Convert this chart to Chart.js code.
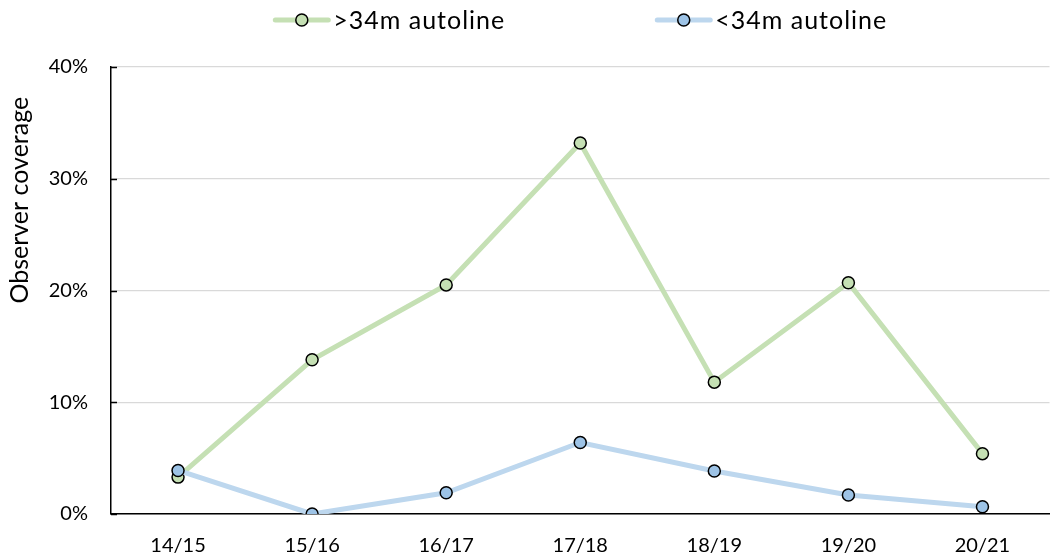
<!DOCTYPE html>
<html>
<head>
<meta charset="utf-8">
<script src="https://cdn.jsdelivr.net/npm/chart.js@4"></script>
<style>
html,body{margin:0;padding:0;background:#fff;}
#wrap{width:1057px;height:558px;position:relative;}
</style>
</head>
<body>
<div id="wrap"><canvas id="c" width="1057" height="558"></canvas></div>
<script>
const categories = ['14/15','15/16','16/17','17/18','18/19','19/20','20/21'];
const seriesNames = ['>34m autoline','<34m autoline'];
const over34 = [3.3, 13.8, 20.5, 33.2, 11.8, 20.7, 5.4];
const under34 = [3.9, 0.0, 1.9, 6.4, 3.85, 1.7, 0.65];
const yTicks = [0, 10, 20, 30, 40];
const yTitle = 'Observer coverage';

const FONT = 'Lato, "Open Sans", sans-serif';
const lineColors = ['#C5E0B4', '#BDD7EE'];
const markerColors = ['#C5E0B4', '#9DC3E6'];

// custom legend: line + marker sample, centered over the plot area
const legendPlugin = {
  id: 'lineLegend',
  afterDraw(chart) {
    const ctx = chart.ctx;
    const fs = 25;
    ctx.save();
    ctx.font = fs + 'px ' + FONT;
    ctx.letterSpacing = '1px';
    ctx.textBaseline = 'middle';
    const sampleW = 57, gapText = 3, gapItems = 150;
    const items = chart.data.datasets.map((d) => ({ds: d, w: sampleW + gapText + ctx.measureText(d.label).width}));
    const total = items.reduce((s, it) => s + it.w, 0) + gapItems * (items.length - 1);
    const ca = chart.chartArea;
    let x = (ca.left + ca.right - total) / 2;
    const y = 20;
    items.forEach((it) => {
      ctx.strokeStyle = it.ds.borderColor;
      ctx.lineWidth = 5;
      ctx.lineCap = 'round';
      ctx.beginPath(); ctx.moveTo(x + 2, y); ctx.lineTo(x + sampleW - 2, y); ctx.stroke();
      ctx.beginPath(); ctx.arc(x + sampleW / 2, y, 6, 0, Math.PI * 2);
      ctx.fillStyle = it.ds.pointBackgroundColor; ctx.fill();
      ctx.lineWidth = 1.5; ctx.strokeStyle = '#000'; ctx.stroke();
      ctx.fillStyle = '#000';
      ctx.fillText(it.ds.label, x + sampleW + gapText, y + 1);
      x += it.w + gapItems;
    });
    ctx.restore();
  }
};

// y axis title, placed in the upper part of the axis (as in the original)
const yTitlePlugin = {
  id: 'yTitle',
  afterDraw(chart) {
    const ctx = chart.ctx, ca = chart.chartArea;
    ctx.save();
    ctx.font = '25px ' + FONT;
    ctx.fillStyle = '#000';
    ctx.textAlign = 'center';
    ctx.textBaseline = 'middle';
    ctx.translate(20, ca.top + (ca.bottom - ca.top) * 0.298);
    ctx.rotate(-Math.PI / 2);
    ctx.fillText(yTitle, 0, 0);
    ctx.restore();
  }
};

// inside tick marks on the y axis
const innerTicks = {
  id: 'innerTicks',
  beforeDatasetsDraw(chart) {
    const ys = chart.scales.y, ctx = chart.ctx;
    const x0 = chart.chartArea.left;
    ctx.save();
    ctx.strokeStyle = '#000'; ctx.lineWidth = 1.5;
    yTicks.forEach(v => {
      const py = Math.round(ys.getPixelForValue(v)) + 0.5;
      ctx.beginPath(); ctx.moveTo(x0, py); ctx.lineTo(x0 + 6, py); ctx.stroke();
    });
    ctx.restore();
  }
};

new Chart(document.getElementById('c'), {
  type: 'line',
  data: {
    labels: categories,
    datasets: [
      {label: seriesNames[0], data: over34, borderColor: lineColors[0], backgroundColor: lineColors[0],
       pointBackgroundColor: markerColors[0], pointBorderColor: '#000', pointBorderWidth: 1.5,
       pointRadius: 6, borderWidth: 5, order: 2, tension: 0},
      {label: seriesNames[1], data: under34, borderColor: lineColors[1], backgroundColor: lineColors[1],
       pointBackgroundColor: markerColors[1], pointBorderColor: '#000', pointBorderWidth: 1.5,
       pointRadius: 6, borderWidth: 5, order: 1, tension: 0}
    ]
  },
  options: {
    responsive: false,
    animation: false,
    layout: {padding: {top: 67, right: 2, bottom: 0, left: 0}},
    plugins: {legend: {display: false}, tooltip: {enabled: false}},
    scales: {
      x: {
        offset: true,
        grid: {display: false, drawTicks: false},
        border: {display: true, color: '#000', width: 1.5},
        ticks: {color: '#000', font: {family: FONT, size: 20}, padding: 20, maxRotation: 0},
        afterFit(s) { s.height = 44; }
      },
      y: {
        min: 0, max: 40,
        afterBuildTicks(s) { s.ticks = yTicks.map(v => ({value: v})); },
        grid: {color: '#D9D9D9', lineWidth: 1.3, drawTicks: false},
        border: {display: true, color: '#000', width: 1.5},
        ticks: {color: '#000', font: {family: FONT, size: 20}, padding: 23, callback: v => v + '%'},
        title: {display: false},
        afterFit(s) { s.width = 111; }
      }
    }
  },
  plugins: [innerTicks, legendPlugin, yTitlePlugin]
});
</script>
</body>
</html>
